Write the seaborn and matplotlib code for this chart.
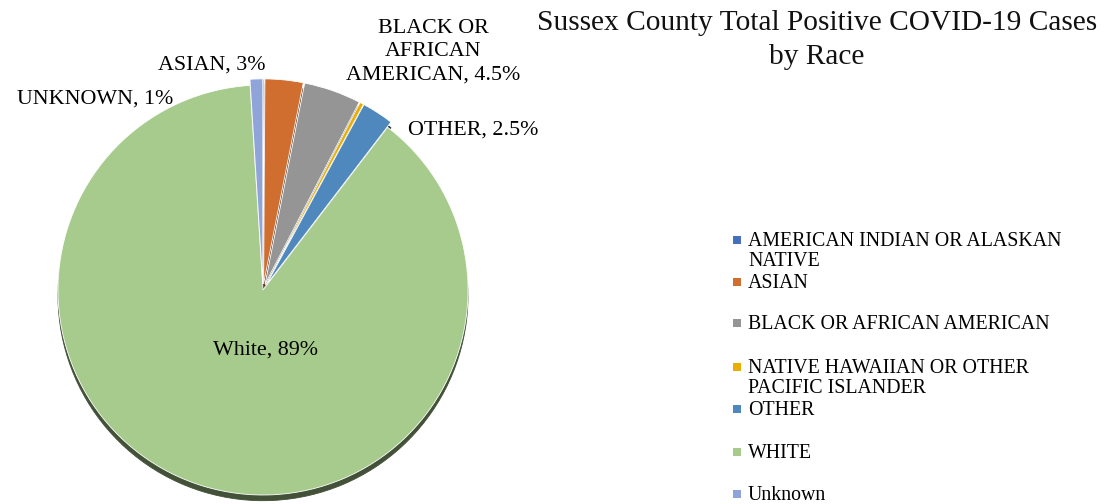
import numpy as np
import seaborn as sns
import matplotlib.pyplot as plt
from matplotlib.patches import Rectangle

# data
races = ['AMERICAN INDIAN OR ALASKAN NATIVE', 'ASIAN', 'BLACK OR AFRICAN AMERICAN',
         'NATIVE HAWAIIAN OR OTHER PACIFIC ISLANDER', 'OTHER', 'WHITE', 'Unknown']
shares = [0.1, 3.0, 4.5, 0.3, 2.5, 88.6, 1.0]
legend_labels = ['AMERICAN INDIAN OR ALASKAN\nNATIVE', 'ASIAN', 'BLACK OR AFRICAN AMERICAN',
                 'NATIVE HAWAIIAN OR OTHER\nPACIFIC ISLANDER', 'OTHER', 'WHITE', 'Unknown']
colors = ['#4470BE', '#D06E30', '#959595', '#E8AE00', '#4F88BD', '#A6CB8D', '#8FA5D9']

# data labels shown on the chart
label_texts = ['ASIAN, 3%', 'BLACK OR\nAFRICAN\nAMERICAN, 4.5%', 'OTHER, 2.5%', 'White, 89%', 'UNKNOWN, 1%']
label_pos = [(-0.249, 1.098), (0.829, 1.161), (1.024, 0.78), (0.01, -0.293), (-0.82, 0.932)]

sns.set_style("white")
plt.rcParams['font.family'] = ['Liberation Serif', 'DejaVu Serif']

W, H = 1106, 504
fig = plt.figure(figsize=(W / 100, H / 100), dpi=100)

def fx(px):
    return px / W

def fy(py):
    return 1 - py / H

# pie axes: center (263, 290), radius 205 px
cx, cy, r = 263, 290, 205
ax = fig.add_axes([fx(cx - r), fy(cy + r), 2 * r / W, 2 * r / H])
explode = [0.03 if s < 50 else 0.0 for s in shares]
wedges, _ = ax.pie(shares, colors=colors, startangle=90, counterclock=False,
                   explode=explode, radius=1.0,
                   wedgeprops=dict(edgecolor='white', linewidth=0.6),
                   shadow=dict(ox=0.0, oy=-0.02, shade=0.6, alpha=1.0))
ax.set_xlim(-1, 1)
ax.set_ylim(-1, 1)
ax.set_aspect('equal')
ax.axis('off')

for txt, (x, y) in zip(label_texts, label_pos):
    ax.text(x, y, txt, ha='center', va='center', fontsize=15.8,
            linespacing=1.3, multialignment='center', color='black')

# title
fig.text(fx(817), fy(40), 'Sussex County Total Positive COVID-19 Cases\nby Race',
         ha='center', va='center', fontsize=21.2, linespacing=1.38, color='#111111')

# legend
row_centers = [240, 282, 323, 367, 409, 452, 494]
for lab, col, yc in zip(legend_labels, colors, row_centers):
    fig.add_artist(Rectangle((fx(733), fy(yc + 4)), 8 / W, 8 / H, transform=fig.transFigure,
                             facecolor=col, edgecolor='none'))
    fig.text(fx(748), fy(yc - 8), lab, ha='left', va='top', fontsize=14.3,
             linespacing=1.05, color='black')

fig.savefig('out.png', dpi=100)
